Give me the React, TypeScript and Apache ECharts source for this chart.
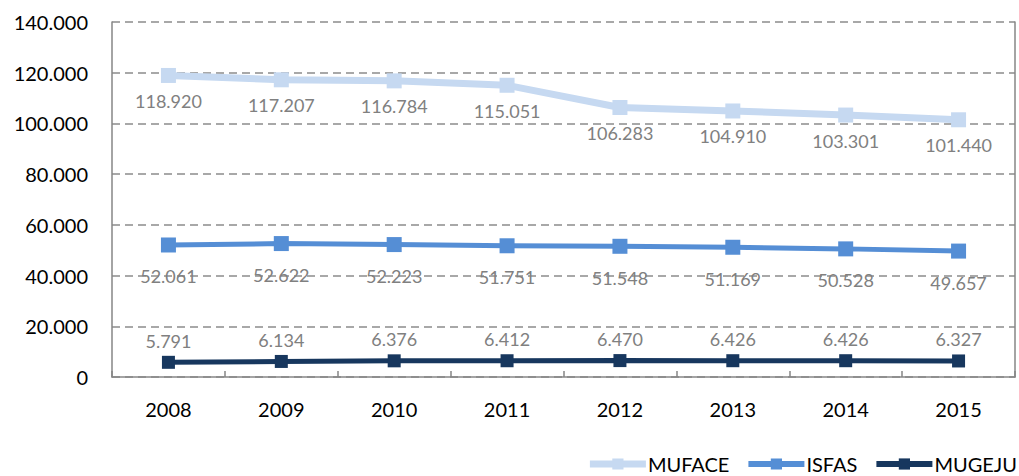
import React, { useEffect, useRef } from "react";
import * as echarts from "echarts";

const categories = ["2008", "2009", "2010", "2011", "2012", "2013", "2014", "2015"];
const muface = [118920, 117207, 116784, 115051, 106283, 104910, 103301, 101440];
const isfas = [52061, 52622, 52223, 51751, 51548, 51169, 50528, 49657];
const mugeju = [5791, 6134, 6376, 6412, 6470, 6426, 6426, 6327];
const seriesNames = ["MUFACE", "ISFAS", "MUGEJU"];
const seriesColors = ["#c6d9f1", "#558ed5", "#17375e"];

const fmt = (v: number) => {
  const s = Math.round(v).toString();
  return s.replace(/\B(?=(\d{3})+(?!\d))/g, ".");
};

const FONT = "Lato, 'Open Sans', sans-serif";

export default function App() {
  const ref = useRef<HTMLDivElement>(null);
  useEffect(() => {
    if (!ref.current) return;
    const chart = echarts.init(ref.current, undefined, { renderer: "svg" });
    const labelStyle = {
      show: true,
      color: "#808080",
      fontSize: 18,
      fontFamily: FONT,
      formatter: (p: any) => fmt(p.value),
    };
    chart.setOption({
      animation: false,
      textStyle: { fontFamily: FONT },
      grid: { left: 112, right: 4, top: 22, bottom: 99, containLabel: false },
      legend: {
        right: 2,
        bottom: 2,
        padding: 0,
        itemWidth: 56,
        itemHeight: 14,
        itemGap: 16,
        textStyle: { fontSize: 20, lineHeight: 18, color: "#000", fontFamily: FONT, padding: [0, 0, 0, -3] },
        data: seriesNames.map((n, i) => ({
          name: n,
          lineStyle: { width: i === 0 ? 7 : 6, color: seriesColors[i] },
          itemStyle: { color: seriesColors[i] },
        })),
      },
      xAxis: {
        type: "category",
        data: categories,
        boundaryGap: true,
        axisLine: { lineStyle: { color: "#868686", width: 1.5 } },
        axisTick: { show: true, inside: true, length: 6, lineStyle: { color: "#868686", width: 1.5 } },
        axisLabel: { color: "#000", fontSize: 20, fontFamily: FONT, margin: 22 },
      },
      yAxis: [
        {
          type: "value",
          min: 0,
          max: 140000,
          interval: 20000,
          axisLine: { show: true, lineStyle: { color: "#868686", width: 1.5 } },
          axisTick: { show: false },
          axisLabel: { color: "#000", fontSize: 20, fontFamily: FONT, margin: 24, formatter: (v: number) => fmt(v) },
          splitLine: { show: true, lineStyle: { color: "#8c8c8c", width: 1.5, type: [8, 5] } },
        },
        {
          type: "value",
          position: "right",
          min: 0,
          max: 140000,
          interval: 20000,
          axisLine: { show: true, lineStyle: { color: "#868686", width: 1.5 } },
          axisTick: { show: false },
          axisLabel: { show: false },
          splitLine: { show: false },
        },
      ],
      series: [
        {
          name: "MUFACE",
          type: "line",
          data: muface,
          symbol: "rect",
          symbolSize: 15,
          color: seriesColors[0],
          lineStyle: { width: 7, color: seriesColors[0] },
          itemStyle: { color: seriesColors[0] },
          label: { ...labelStyle, position: "bottom", distance: 9 },
        },
        {
          name: "ISFAS",
          type: "line",
          data: isfas,
          symbol: "rect",
          symbolSize: 15,
          color: seriesColors[1],
          lineStyle: { width: 5, color: seriesColors[1] },
          itemStyle: { color: seriesColors[1] },
          label: { ...labelStyle, position: "bottom", distance: 15 },
        },
        {
          name: "MUGEJU",
          type: "line",
          data: mugeju,
          symbol: "rect",
          symbolSize: 13,
          color: seriesColors[2],
          lineStyle: { width: 5, color: seriesColors[2] },
          itemStyle: { color: seriesColors[2] },
          label: { ...labelStyle, position: "top", distance: 6 },
        },
      ],
    });
    return () => chart.dispose();
  }, []);
  return <div ref={ref} style={{ width: 1019, height: 476, position: "absolute", left: 0, top: 0 }} />;
}
